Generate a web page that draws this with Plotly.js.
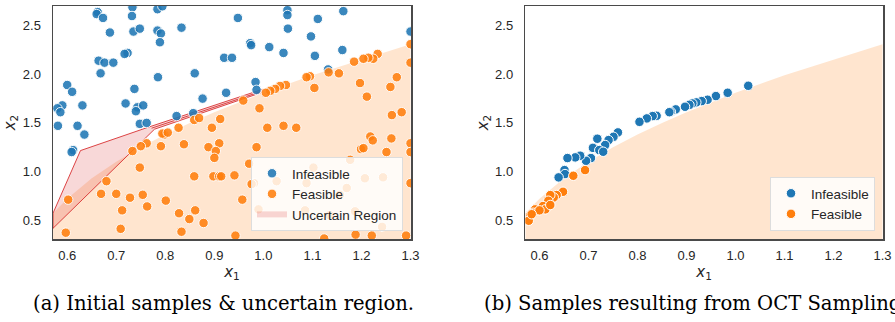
<!DOCTYPE html>
<html>
<head>
<meta charset="utf-8">
<script src="https://cdn.plot.ly/plotly-3.0.1.min.js"></script>
<style>html,body{margin:0;padding:0;background:#fff;} #chart{width:895px;height:322px;}</style>
</head>
<body>
<div id="chart"></div>
<script>
// ---- Data ----
const boundaryX = [0.571, 0.60, 0.65, 0.70, 0.75, 0.80, 0.85, 0.90, 0.95, 1.00, 1.05, 1.10, 1.15, 1.20, 1.25, 1.30];
const boundaryY = [0.57, 0.72, 0.93, 1.10, 1.25, 1.38, 1.50, 1.61, 1.71, 1.81, 1.90, 1.99, 2.07, 2.15, 2.23, 2.31];

const uncX = [0.571, 0.627, 0.765, 0.998, 0.995, 0.778, 0.571, 0.571];
const uncY = [0.57, 1.215, 1.455, 1.845, 1.81, 1.435, 0.415, 0.57];
const uncMidX = [0.772, 0.998];
const uncMidY = [1.445, 1.828];

const initInfX = [0.662,0.660,0.673,0.733,0.732,0.784,0.794,0.687,0.735,0.748,0.833,0.784,0.791,0.789,0.948,1.049,1.049,1.050,1.111,1.163,1.300,0.973,0.975,1.012,1.041,1.097,1.105,1.161,0.920,0.936,0.723,0.717,0.664,0.676,0.694,0.668,0.785,0.860,0.600,0.610,0.737,0.719,0.631,0.590,0.580,0.586,0.743,0.755,0.740,0.581,0.621,0.635,0.748,0.762,0.612,0.609,0.857,0.876,0.924,0.823,0.984,0.986,1.132];
const initInfY = [2.64,2.62,2.58,2.69,2.60,2.67,2.70,2.43,2.44,2.47,2.48,2.45,2.42,2.33,2.58,2.66,2.61,2.47,2.57,2.65,2.44,2.32,2.30,2.28,2.22,2.39,2.19,2.25,2.17,2.17,2.22,2.21,2.14,2.12,2.12,2.01,1.97,2.01,1.89,1.82,1.85,1.70,1.68,1.68,1.65,1.61,1.66,1.68,1.62,1.47,1.47,1.38,1.49,1.50,1.22,1.20,1.60,1.75,1.81,1.57,1.92,1.84,2.05];

const initFeaX = [1.300,1.300,1.233,1.224,1.214,1.204,1.185,1.133,1.154,1.095,1.088,1.046,1.034,1.024,1.014,1.005,1.104,1.197,1.272,1.259,1.211,0.959,0.992,1.262,1.282,1.041,1.008,1.067,
  0.859,0.869,0.912,0.895,0.827,0.798,0.794,0.805,0.762,0.750,0.733,0.791,0.838,0.888,0.910,0.903,0.900,0.986,1.218,1.223,1.261,1.199,1.204,1.251,1.300,1.300,1.177,0.748,0.680,0.669,0.700,0.754,0.728,0.801,0.763,0.712,0.828,0.861,0.849,0.878,0.833,0.709,0.597,0.602,0.859,0.898,0.910,0.914,0.941,0.971,0.957,0.943,1.124,1.188,1.221,1.291,1.300,
  1.102,0.981,0.976,1.027,1.088,1.170,1.207,1.244,1.156,0.990,1.085,1.135,1.187,1.242];
const initFeaY = [2.31,2.12,2.21,2.16,2.17,2.16,2.13,2.02,2.01,1.98,1.97,1.89,1.88,1.85,1.83,1.81,1.86,1.91,1.97,1.87,1.77,1.73,1.65,1.58,1.61,1.47,1.45,1.45,
  1.53,1.55,1.54,1.45,1.45,1.38,1.39,1.40,1.29,1.26,1.21,1.26,1.28,1.25,1.29,1.21,1.14,1.25,1.36,1.32,1.34,1.23,1.24,1.20,1.29,1.20,1.12,1.04,0.90,0.77,0.77,0.76,0.73,0.70,0.64,0.60,0.57,0.60,0.51,0.47,0.38,0.41,0.37,0.71,0.95,0.95,0.95,0.95,0.96,1.08,0.71,0.34,0.31,0.35,0.34,0.34,0.88,
  1.04,0.88,0.87,0.90,0.88,0.83,0.93,0.94,0.76,0.61,0.60,0.55,0.59,0.43];

const octInfX = [1.026,0.984,0.960,0.943,0.931,0.920,0.912,0.906,0.897,0.878,0.868,0.865,0.839,0.831,0.819,0.804,0.760,0.751,0.741,0.734,0.718,0.709,0.722,0.730,0.705,0.695,0.683,0.673,0.657,0.651,0.652,0.639];
const octInfY = [1.882,1.810,1.776,1.738,1.724,1.711,1.700,1.686,1.666,1.639,1.614,1.610,1.573,1.570,1.546,1.511,1.402,1.357,1.323,1.272,1.337,1.243,1.220,1.203,1.138,1.110,1.162,1.145,1.138,1.014,0.973,0.939];
const octFeaX = [0.693,0.669,0.648,0.635,0.629,0.622,0.618,0.607,0.612,0.622,0.591,0.587,0.581,0.578,0.600,0.584];
const octFeaY = [1.014,0.956,0.791,0.757,0.733,0.757,0.699,0.644,0.610,0.655,0.610,0.575,0.551,0.493,0.600,0.560];

const xTicks = [0.6, 0.7, 0.8, 0.9, 1.0, 1.1, 1.2, 1.3];
const yTicks = [0.5, 1.0, 1.5, 2.0, 2.5];
const captionA = "(a) Initial samples &amp; uncertain region.";
const captionB = "(b) Samples resulting from OCT Sampling.";

// ---- Styles ----
const W = 895, H = 322;
const BLUE = '#1f77b4', ORANGE = '#ff7f0e';
const feaFill = 'rgba(255,127,14,0.2)';
const uncFill = 'rgba(214,39,40,0.18)';
const uncLine = 'rgba(214,39,40,0.85)';
const sans = 'Liberation Sans, Arial, sans-serif';

function region(xa, ya) {
  return {x: boundaryX, y: boundaryY, xaxis: xa, yaxis: ya, type: 'scatter', mode: 'lines',
    line: {width: 0, color: feaFill}, fill: 'tozeroy', fillcolor: feaFill, showlegend: false, hoverinfo: 'skip'};
}
function pts(x, y, color, name, xa, ya, legend, op) {
  return {x: x, y: y, xaxis: xa, yaxis: ya, type: 'scatter', mode: 'markers', name: name, legend: legend,
    marker: {color: color, size: 9.5, opacity: op, line: {color: 'white', width: 1}}};
}

const traces = [
  region('x', 'y'),
  {x: uncX, y: uncY, xaxis: 'x', yaxis: 'y', type: 'scatter', mode: 'none', name: 'Uncertain Region',
   fill: 'toself', fillcolor: uncFill, legend: 'legend', legendrank: 3},
  {x: uncX, y: uncY, xaxis: 'x', yaxis: 'y', type: 'scatter', mode: 'lines', showlegend: false,
   line: {color: uncLine, width: 1}},
  {x: uncMidX, y: uncMidY, xaxis: 'x', yaxis: 'y', type: 'scatter', mode: 'lines', showlegend: false,
   line: {color: uncLine, width: 1}},
  Object.assign(pts(initInfX, initInfY, BLUE, 'Infeasible', 'x', 'y', 'legend', 0.88), {legendrank: 1}),
  Object.assign(pts(initFeaX, initFeaY, ORANGE, 'Feasible', 'x', 'y', 'legend', 0.88), {legendrank: 2}),
  region('x2', 'y2'),
  pts(octInfX, octInfY, BLUE, 'Infeasible', 'x2', 'y2', 'legend2', 1),
  pts(octFeaX, octFeaY, ORANGE, 'Feasible', 'x2', 'y2', 'legend2', 1)
];

function xax(domain) {
  return {domain: domain, range: [0.571, 1.301], tickvals: xTicks, ticktext: xTicks.map(v => v.toFixed(1)),
    showgrid: false, zeroline: false, showline: true, mirror: true, linecolor: '#4a4a4a', linewidth: 1.5,
    ticks: 'outside', ticklen: 4, tickcolor: 'rgba(0,0,0,0)',
    tickfont: {family: sans, size: 13, color: '#262626'},
    title: {text: '<i>x</i><sub>1</sub>', standoff: 4, font: {family: 'DejaVu Sans', size: 15, color: '#262626'}}};
}
function yax(domain, anchor) {
  return {domain: domain, anchor: anchor, range: [0.305, 2.703], tickvals: yTicks, ticktext: yTicks.map(v => v.toFixed(1)),
    showgrid: false, zeroline: false, showline: true, mirror: true, linecolor: '#4a4a4a', linewidth: 1.5,
    ticks: 'outside', ticklen: 8, tickcolor: 'rgba(0,0,0,0)',
    tickfont: {family: sans, size: 13, color: '#262626'},
    title: {text: '<i>x</i><sub>2</sub>', standoff: 3, font: {family: 'DejaVu Sans', size: 15, color: '#262626'}}};
}
const yDom = [1 - 239/H, 1 - 6/H];
const legendStyle = {bgcolor: 'rgba(255,255,255,0.82)', bordercolor: '#dddddd', borderwidth: 1,
  font: {family: sans, size: 13.5, color: '#262626'}, xanchor: 'right', yanchor: 'bottom', tracegroupgap: 0};

const layout = {
  width: W, height: H, margin: {l: 0, r: 0, t: 0, b: 0},
  paper_bgcolor: 'white', plot_bgcolor: 'white',
  xaxis: Object.assign(xax([53/W, 411/W]), {anchor: 'y'}),
  yaxis: yax(yDom, 'x'),
  xaxis2: Object.assign(xax([525.3/W, 883/W]), {anchor: 'y2'}),
  yaxis2: yax(yDom, 'x2'),
  legend: Object.assign({}, legendStyle, {x: 403/W, y: 1 - 231/H}),
  legend2: Object.assign({}, legendStyle, {x: 875/W, y: 1 - 231/H}),
  annotations: [
    {text: captionA, xref: 'paper', yref: 'paper', x: 223/W, y: 1 - 303/H, xanchor: 'center', yanchor: 'middle',
     showarrow: false, font: {family: 'DejaVu Serif', size: 19.6, color: '#000'}},
    {text: captionB, xref: 'paper', yref: 'paper', x: 481.7/W, y: 1 - 303/H, xanchor: 'left', yanchor: 'middle',
     showarrow: false, font: {family: 'DejaVu Serif', size: 19.6, color: '#000'}}
  ],
  showlegend: true
};

Plotly.newPlot('chart', traces, layout, {staticPlot: true, displayModeBar: false});
</script>
</body>
</html>
